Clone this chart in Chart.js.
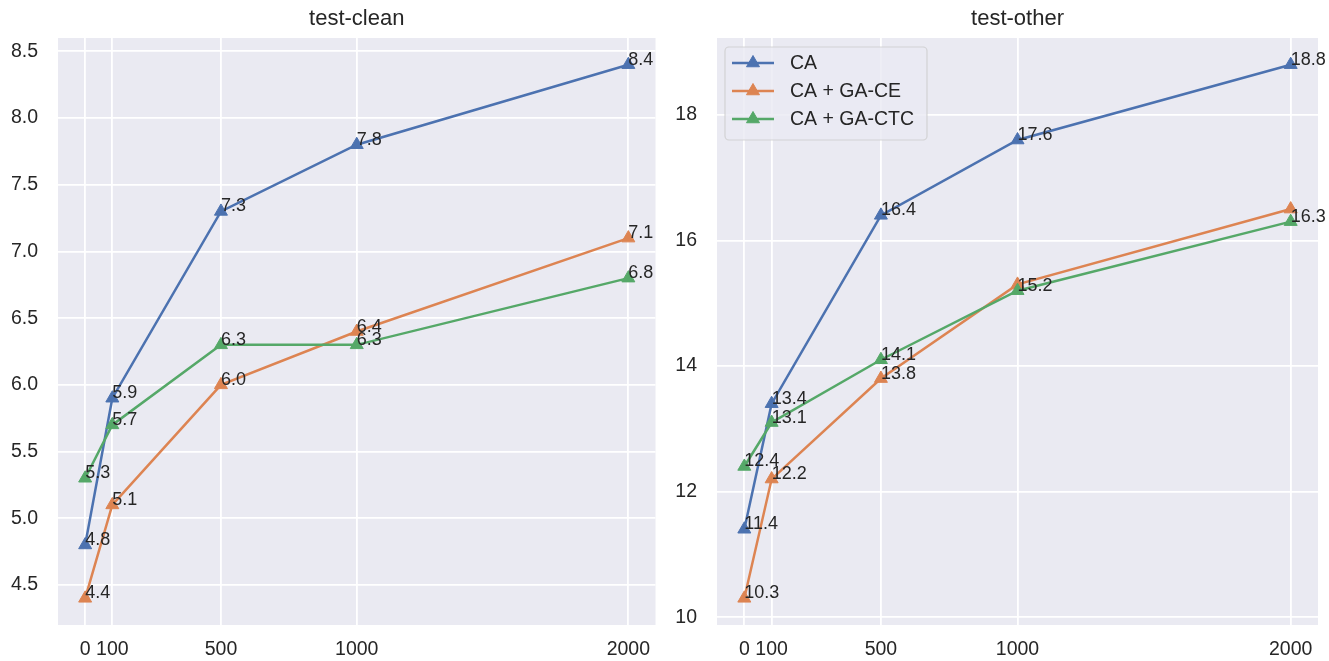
<!DOCTYPE html>
<html>
<head>
<meta charset="utf-8">
<script src="https://cdn.jsdelivr.net/npm/chart.js@4.4.0/dist/chart.umd.min.js"></script>
<style>
  body { margin: 0; background: #fff; }
  #wrap { position: relative; width: 1329px; height: 661px; }
  canvas { position: absolute; top: 0; }
</style>
</head>
<body>
<div id="wrap">
  <canvas id="clean" width="664" height="661" style="left:0"></canvas>
  <canvas id="other" width="665" height="661" style="left:664px"></canvas>
</div>
<script>
// training steps on the x axis
const steps = [0, 100, 500, 1000, 2000];
const seriesNames = ['CA', 'CA + GA-CE', 'CA + GA-CTC'];
const seriesColors = ['#4C72B0', '#DD8452', '#55A868'];

// test-clean
const cleanCA    = [4.8, 5.9, 7.3, 7.8, 8.4];
const cleanGACE  = [4.4, 5.1, 6.0, 6.4, 7.1];
const cleanGACTC = [5.3, 5.7, 6.3, 6.3, 6.8];
const cleanTicks = [4.5, 5.0, 5.5, 6.0, 6.5, 7.0, 7.5, 8.0, 8.5];

// test-other
const otherCA    = [11.4, 13.4, 16.4, 17.6, 18.8];
const otherGACE  = [10.3, 12.2, 13.8, 15.3, 16.5];
const otherGACTC = [12.4, 13.1, 14.1, 15.2, 16.3];
const otherTicks = [10, 12, 14, 16, 18];
// value labels not printed in the original (series index, point index)
const otherNoLabel = [[1, 3], [1, 4]];

const FONT = '"Liberation Sans", Arial, sans-serif';
const TEXT = '#262626';

function triangle(ctx, x, y, r, color) {
  ctx.beginPath();
  for (let k = 0; k < 3; k++) {
    const a = -Math.PI / 2 + k * 2 * Math.PI / 3;
    const px = x + r * Math.cos(a), py = y + r * Math.sin(a);
    if (k === 0) ctx.moveTo(px, py); else ctx.lineTo(px, py);
  }
  ctx.closePath();
  ctx.fillStyle = color;
  ctx.strokeStyle = color;
  ctx.lineWidth = 1;
  ctx.fill();
  ctx.stroke();
}

const bgPlugin = {
  id: 'bg',
  beforeDraw(chart) {
    const a = chart.chartArea, ctx = chart.ctx;
    ctx.save();
    ctx.fillStyle = '#EAEAF2';
    ctx.fillRect(a.left, a.top, a.right - a.left, a.bottom - a.top);
    ctx.restore();
  }
};

// value written next to each point, like ax.text(x, y, str(y))
function valuePlugin(skip) {
  return {
    id: 'values',
    afterDatasetsDraw(chart) {
      const ctx = chart.ctx;
      ctx.save();
      ctx.font = '18px ' + FONT;
      ctx.fillStyle = TEXT;
      ctx.textAlign = 'left';
      ctx.textBaseline = 'alphabetic';
      chart.data.datasets.forEach((ds, i) => {
        chart.getDatasetMeta(i).data.forEach((pt, j) => {
          if (skip.some(p => p[0] === i && p[1] === j)) return;
          ctx.fillText(ds.data[j].y.toFixed(1), pt.x, pt.y);
        });
      });
      ctx.restore();
    }
  };
}

const boxLegend = {
  id: 'boxLegend',
  afterDraw(chart) {
    const ctx = chart.ctx, a = chart.chartArea;
    const bx = a.left + 8, by = a.top + 9, bw = 202, bh = 93;
    ctx.save();
    ctx.beginPath();
    ctx.roundRect(bx, by, bw, bh, 4);
    ctx.fillStyle = 'rgba(234,234,242,0.8)';
    ctx.fill();
    ctx.strokeStyle = 'rgba(204,204,204,0.8)';
    ctx.lineWidth = 1.2;
    ctx.stroke();
    ctx.font = '19.5px ' + FONT;
    ctx.textBaseline = 'middle';
    ctx.textAlign = 'left';
    seriesNames.forEach((name, i) => {
      const y = by + 16 + i * 28;
      ctx.beginPath();
      ctx.moveTo(bx + 7, y);
      ctx.lineTo(bx + 49, y);
      ctx.strokeStyle = seriesColors[i];
      ctx.lineWidth = 2.5;
      ctx.stroke();
      triangle(ctx, bx + 28, y, 7.5, seriesColors[i]);
      ctx.fillStyle = TEXT;
      ctx.fillText(name, bx + 65, y + 1);
    });
    ctx.restore();
  }
};

function makeChart(id, title, series, yMin, yMax, yTicks, fmt, axisWidth, padRight, skip, extra) {
  const datasets = series.map((vals, i) => ({
    label: seriesNames[i],
    data: steps.map((s, j) => ({ x: s, y: vals[j] })),
    borderColor: seriesColors[i],
    backgroundColor: seriesColors[i],
    borderWidth: 2.5,
    pointStyle: 'triangle',
    pointRadius: 7.5,
    pointBorderWidth: 1,
    tension: 0,
    order: series.length - i
  }));
  return new Chart(document.getElementById(id), {
    type: 'line',
    data: { datasets },
    options: {
      responsive: false,
      animation: false,
      devicePixelRatio: 1,
      layout: { padding: { left: 0, right: padRight, top: 0, bottom: 0 } },
      plugins: {
        legend: { display: false },
        tooltip: { enabled: false },
        title: {
          display: true, text: title, color: TEXT, fullSize: false,
          font: { size: 22, weight: 'normal', family: FONT },
          padding: { top: 6, bottom: 5.6 }
        }
      },
      scales: {
        x: {
          type: 'linear', min: -100, max: 2100,
          afterBuildTicks: s => { s.ticks = steps.map(v => ({ value: v })); },
          afterFit: s => { s.height = 36; s.paddingLeft = 0; s.paddingRight = 0; },
          grid: { color: '#fff', lineWidth: 1.8, drawTicks: false },
          border: { display: false },
          ticks: {
            autoSkip: false, maxRotation: 0, padding: 13, color: TEXT,
            font: { size: 19.5, family: FONT },
            callback: v => String(v)
          }
        },
        y: {
          min: yMin, max: yMax,
          afterBuildTicks: s => { s.ticks = yTicks.map(v => ({ value: v })); },
          afterFit: s => { s.width = axisWidth; s.paddingTop = 0; s.paddingBottom = 0; },
          grid: { color: '#fff', lineWidth: 1.8, drawTicks: false },
          border: { display: false },
          ticks: {
            padding: 20, color: TEXT,
            font: { size: 19.5, family: FONT },
            callback: fmt
          }
        }
      }
    },
    plugins: [bgPlugin, valuePlugin(skip)].concat(extra)
  });
}

makeChart('clean', 'test-clean', [cleanCA, cleanGACE, cleanGACTC],
  4.2, 8.6, cleanTicks, v => v.toFixed(1), 58, 4, [], []);
makeChart('other', 'test-other', [otherCA, otherGACE, otherGACTC],
  9.875, 19.225, otherTicks, v => String(v), 53, 11, otherNoLabel, [boxLegend]);
</script>
</body>
</html>
